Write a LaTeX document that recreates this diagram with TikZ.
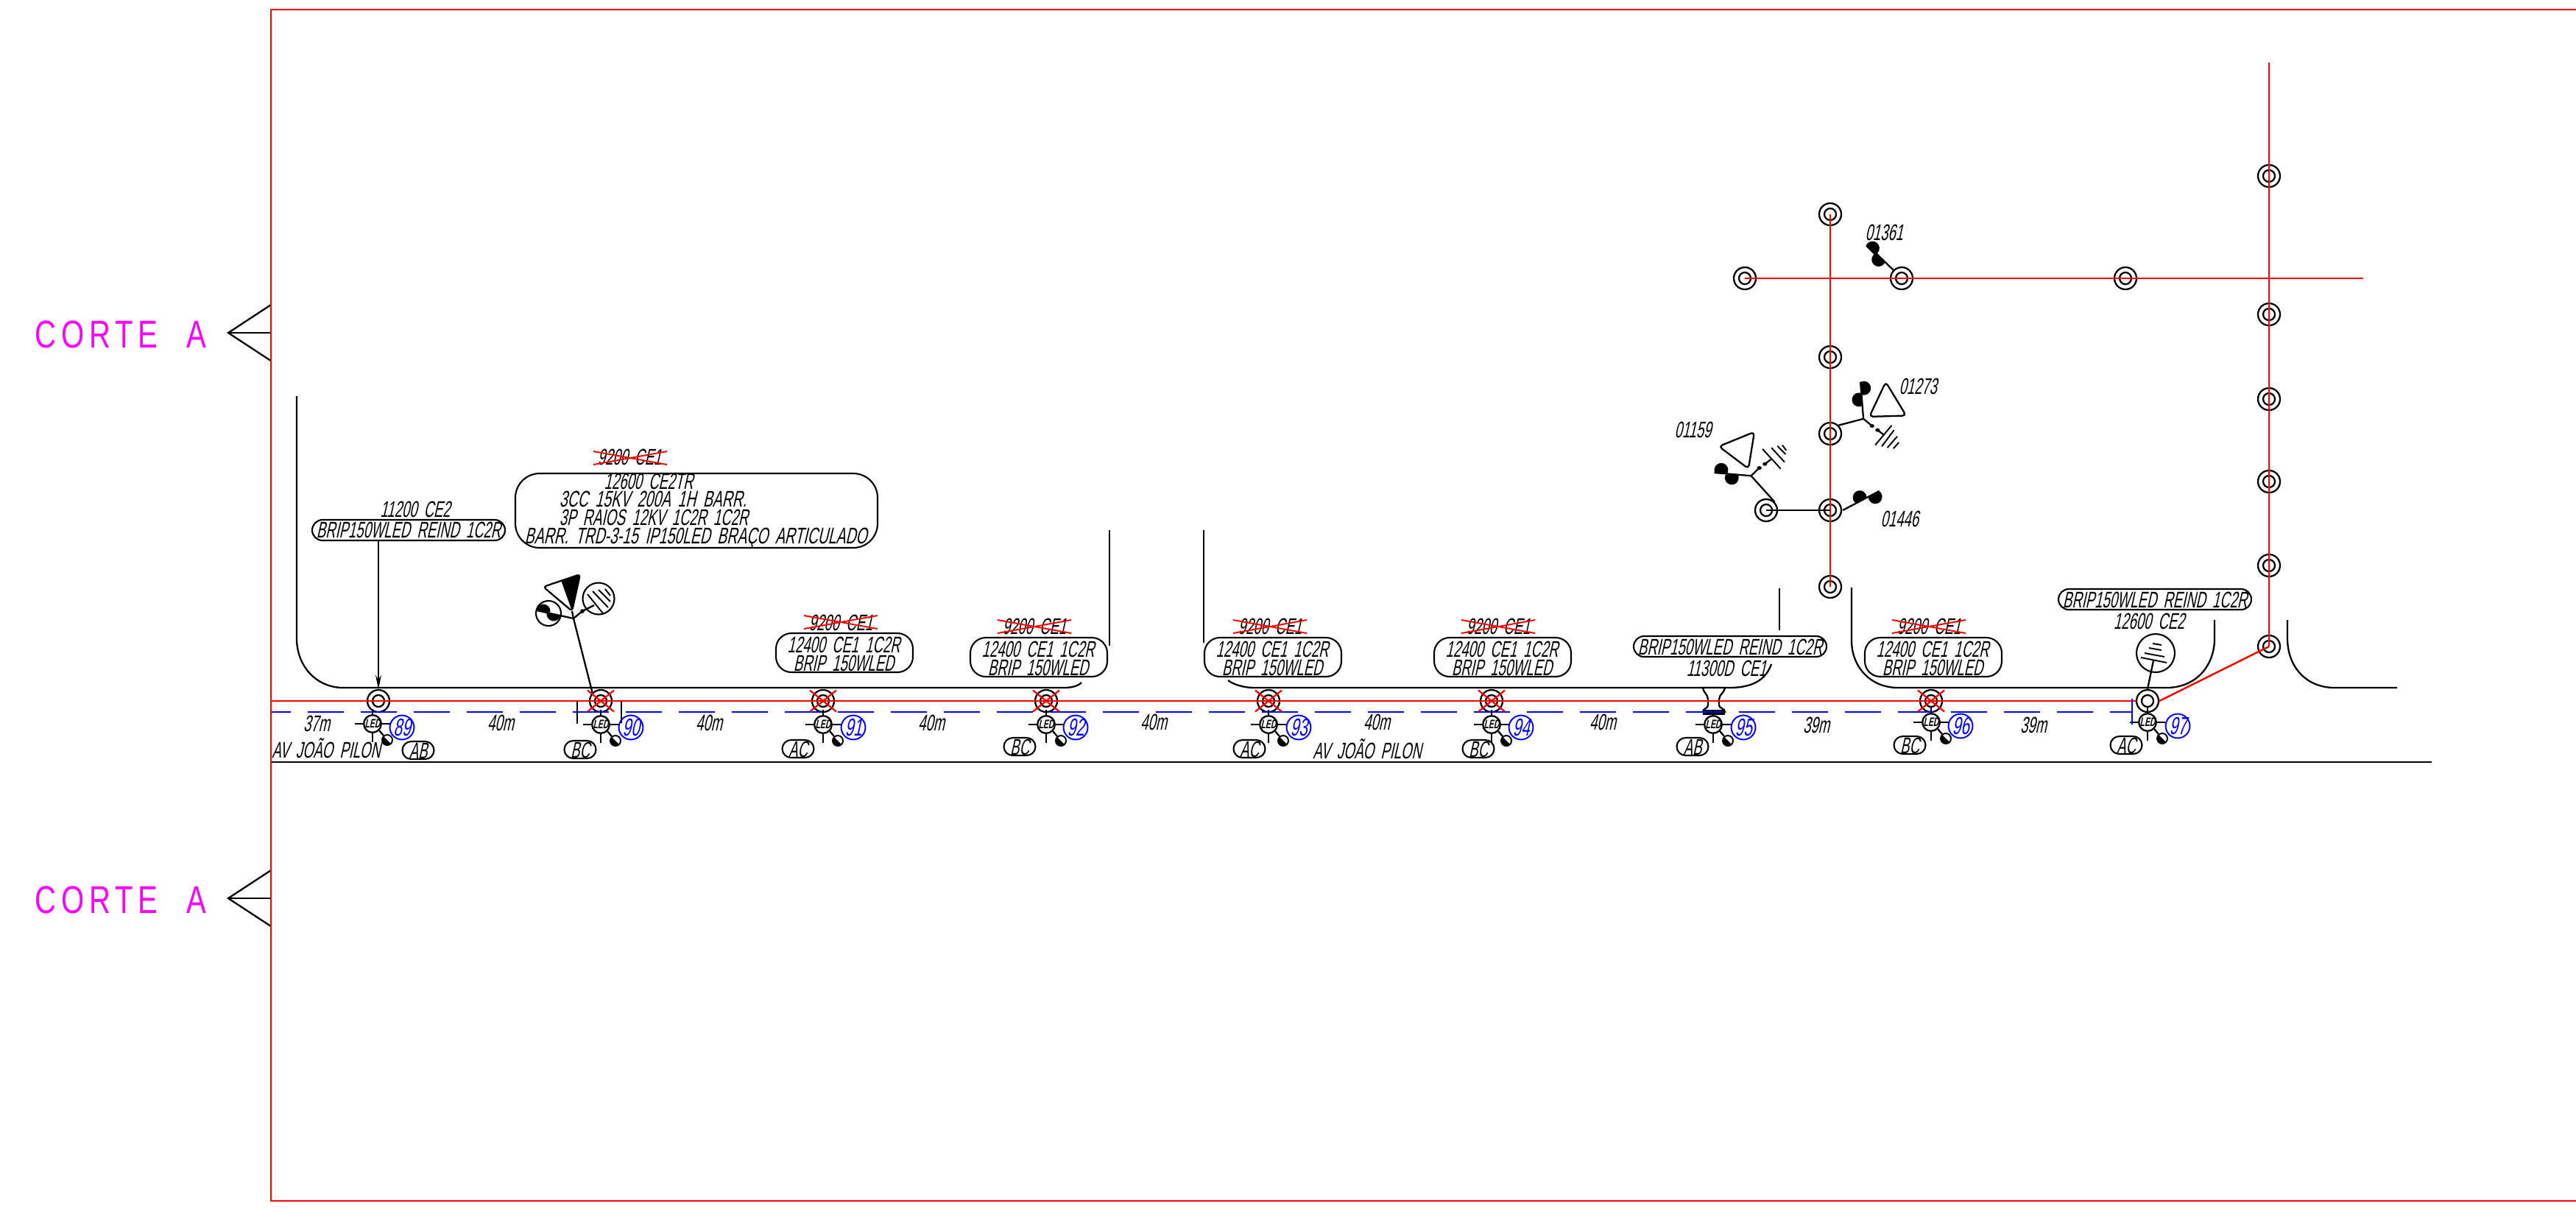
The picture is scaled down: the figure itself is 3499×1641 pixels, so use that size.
\documentclass[tikz,border=0pt]{standalone}
\usepackage{fontspec}
\usetikzlibrary{arrows.meta,calc}
\setmainfont{Liberation Sans}
\newfontfamily\cadfont[FakeSlant=0.22,FakeStretch=0.60,WordSpace=1.8]{Liberation Sans}
\newfontfamily\cadnum[FakeSlant=0.22,FakeStretch=0.62]{Liberation Sans}
\newfontfamily\cadup[FakeStretch=0.76,WordSpace=2.2,LetterSpace=13]{Liberation Sans}
\definecolor{cred}{RGB}{255,0,0}
\definecolor{cblue}{RGB}{0,0,255}
\definecolor{cmag}{RGB}{255,0,255}
\tikzset{
 ln/.style={line width=1.3pt,black},
 thin ln/.style={line width=1pt,black},
 rline/.style={line width=1.4pt,cred},
 xline/.style={line width=1.1pt,cred},
 bline/.style={line width=1.6pt,cblue},
 pole/.style={circle,draw,line width=1.3pt,minimum size=0.6cm,inner sep=0pt,fill=white,
   path picture={\draw[line width=1.3pt] (path picture bounding box.center) circle (8);}},
 ledc/.style={circle,draw,line width=1.3pt,minimum size=0.47cm,inner sep=0pt,fill=white,
   font=\cadnum\fontsize{9.5}{10}\selectfont\bfseries},
 ball/.style={circle,draw,line width=1.1pt,minimum size=0.28cm,inner sep=0pt,
   path picture={\fill[shift={(path picture bounding box.center)}] (45:8) arc (45:225:8) -- cycle;}},
 numc/.style={circle,draw=cblue,text=cblue,line width=1.1pt,minimum size=0.64cm,inner sep=0pt,
   font=\cadnum\fontsize{19}{19}\selectfont},
 txt/.style={inner sep=0pt,text height=12.5pt,text depth=0pt,font=\cadfont\fontsize{17.5}{18}\selectfont},
 pill/.style={draw,line width=1.2pt,rounded corners=0.24cm,minimum height=0.48cm,minimum width=0.86cm,inner sep=0pt,
   text height=12.5pt,text depth=0pt,font=\cadfont\fontsize{17.5}{18}\selectfont},
 lbox/.style={draw,line width=1.2pt,inner sep=0pt},
}
\newcommand{\strikeout}[2]{\draw[xline,shift={(#1,#2)}] (-50,-9)--(50,9) (-50,9)--(50,-9);}
\newcommand{\lobepx}[3]{%
 \fill[shift={(#1,#2)},shift={(#3+90:4.5)}] (#3-28:9.5) arc (#3-28:#3+208:9.5) -- cycle;}
\newcommand{\zlobe}[3]{%
 \pgfmathsetmacro\lobx{2200+#1/2.24}\pgfmathsetmacro\loby{260+#2/2.8}%
 \lobepx{\lobx}{\loby}{#3}}
\begin{document}
\begin{tikzpicture}[x=0.02cm,y=-0.02cm]
\useasboundingbox (0,0) rectangle (3499,1641);
\fill[white] (0,0) rectangle (3499,1641);

% street edges
\draw[ln] (403,538) -- (403,867) .. controls (403,905) and (430,934) .. (466,934) -- (1445,934) .. controls (1455,934) and (1464,932) .. (1469,927);
\draw[thin ln] (1507,720) -- (1507,877);
\draw[thin ln] (1635,720) -- (1635,873);
\draw[ln] (1668,924) .. controls (1676,930) and (1690,934) .. (1703,934) -- (2349,934) .. controls (2378,934) and (2398,925) .. (2406,902);
\draw[thin ln] (2417,799) -- (2417,856);
\draw[ln] (2515,798) -- (2515,870) .. controls (2515,905) and (2540,934) .. (2578,934) -- (2943,934) .. controls (2982,934) and (3008,905) .. (3008,867) -- (3008,842);
\draw[ln] (3107,842) -- (3107,867) .. controls (3107,905) and (3132,934) .. (3171,934) -- (3256,934);
\draw[ln] (368,1035) -- (3303,1035);

% I-beam crossing
\draw[ln,fill=white] (2313,934) -- (2343,934) .. controls (2343,940) and (2335,943) .. (2335,950) -- (2335,958) .. controls (2335,962) and (2343,962) .. (2343,967) -- (2313,967) .. controls (2313,962) and (2320,962) .. (2320,958) -- (2320,950) .. controls (2320,943) and (2313,940) .. (2313,934) -- cycle;
\fill (2313,964) rectangle (2343,971);

% poles
\foreach \n/\x/\y in {89/514/952,90/816/952,91/1118/952,92/1421/952,93/1723/952,94/2026/952,96/2623/952,97/2917/952,
  a1/3082/878,a2/3082/768,a3/3082/654,a4/3082/542,a5/3082/427,a6/3082/239,
  b1/2486/291,b2/2486/485,b3/2486/589,b4/2486/693,b5/2486/797,
  c1/2370/378,c2/2583/378,c3/2887/378,d1/2399/693}
  \node[pole] (p\n) at (\x,\y) {};
\coordinate (p95) at (2327,952);

% blue service line
\coordinate (bstart) at (368,967);
\coordinate (bend) at (2896,967);
\draw[bline,dash pattern=on 0.98cm off 0.46cm,dash phase=0.44cm] (bstart) -- (bend);

% LED luminaires
\foreach \n/\x/\y/\nx/\ny/\ph/\pxx/\pyy in {89/506/983/546/988/AB/568/1019,90/816/984/857/988/BC/788/1018,91/1118/984/1159/988/AC/1084/1017,
  92/1421/984/1461/988/BC/1385/1014,93/1723/984/1764/988/AC/1697/1017,94/2026/984/2066/988/BC/2008/1017,
  95/2327/984/2368/988/AB/2299/1014,96/2623/981/2663/986/BC/2594/1012,97/2917/981/2958/986/AC/2888/1012}{
  \node[ledc] (l\n) at (\x,\y) {LED};
  \node[ball] (ba\n) at ($(l\n)+(20,22)$) {};
  \node[numc] (n\n) at (\nx,\ny) {\n};
  \node[pill] (ph\n) at (\pxx,\pyy) {\ph};
  \draw[ln] (l\n.west) -- ++(-11,0);
  \draw[ln] (l\n.east) -- ++(11,0);
  \draw[ln] (l\n.south) -- ++(0,12);
  \draw[ln] (l\n.north) -- ++(0,-7);
  \draw[ln] (l\n.south east) -- (ba\n);
}

% primary network (red)
\coordinate (rs) at (368,952);
\draw[rline] (rs) -- (p97.west);
\draw[rline] (p97.east) -- (pa1.center);
\coordinate (rtop) at (3082,85);
\draw[rline] (pa1.center) -- (rtop);
\coordinate (rr) at (3210,378);
\draw[rline] (pc1.center) -- (rr);
\draw[rline] (pb1.center) -- (pb5.center);
\draw[ln] (pd1.center) -- (pb4.center);

% blue end and ticks near 90
\coordinate (bt) at (2896,949);
\coordinate (bb) at (2896,984);
\draw[bline,line width=1.1pt] (bt) -- (bb);
\draw[ln] (784,952) -- (784,983);
\draw[ln] (844,952) -- (844,982);

% crosses on replaced poles
\foreach \n in {90,91,92,93,94,96}
  \draw[xline,line width=1.3pt,shift={(p\n.center)}] (-18,-14.5)--(18,14.5) (-18,14.5)--(18,-14.5);

% span lengths
\foreach \i/\t/\x/\y in {1/37m/430/982,2/40m/680/981,3/40m/963/981,4/40m/1265/981,5/40m/1567/980,6/40m/1870/980,7/40m/2177/980,8/39m/2467/984,9/39m/2762/984}
  \node[txt] (sp\i) at (\x,\y) {\t};
\node[txt] (av1) at (443,1018) {AV JOÃO PILON};
\node[txt] (av2) at (1857,1019) {AV JOÃO PILON};

% labels
\node[txt] (l89a) at (564,692) {11200 CE2};
\node[lbox,rounded corners=0.28cm,minimum width=5.24cm,minimum height=0.56cm,txt] (b89) at (555,720) {BRIP150WLED REIND 1C2R};
\draw[lbox,rounded corners=0.66cm] (700,643) rectangle (1192,744);
\node[txt] (t90a) at (881,654) {12600 CE2TR};
\node[txt,transform shape,xscale=1.05] (t90b) at (887,678) {3CC 15KV 200A 1H BARR.};
\node[txt] (t90c) at (888,703) {3P RAIOS 12KV 1C2R 1C2R};
\node[txt,transform shape,xscale=1.05] (t90d) at (945,728) {BARR. TRD-3-15 IP150LED BRAÇO ARTICULADO};
\node[txt] (s90) at (855,621) {9200 CE1};
\strikeout{856}{622}

\foreach \n/\cx/\yy/\sx in {91/1147/860/1142,92/1411/866/1405,93/1729/866/1725,94/2041/866/2035,96/2626/866/2620}{
  \draw[lbox,rounded corners=0.42cm] ($(\cx,\yy)+(-93,0)$) rectangle ($(\cx,\yy)+(93,53)$);
  \node[txt] (ta\n) at ($(\cx,\yy)+(-1,15)$) {12400 CE1 1C2R};
  \node[txt] (tb\n) at ($(\cx,\yy)+(-1,40)$) {BRIP 150WLED};
  \node[txt] (sx\n) at ($(\sx,\yy)+(0,-15)$) {9200 CE1};
  \strikeout{\sx}{\yy-15}
}
\node[lbox,rounded corners=0.28cm,minimum width=5.24cm,minimum height=0.56cm,txt] (b95) at (2350,878) {BRIP150WLED REIND 1C2R};
\node[txt] (t95) at (2345,907) {11300D CE1};
\node[lbox,rounded corners=0.28cm,minimum width=5.24cm,minimum height=0.56cm,txt] (b97) at (2927,814) {BRIP150WLED REIND 1C2R};
\node[txt] (t97) at (2919,843) {12600 CE2};

% leader with arrow
\draw[thin ln,-{Stealth[length=0.38cm,width=0.16cm]}] (b89.south -| p89) -- (p89.north);

% symbol at pole 97
\node[circle,draw,line width=1.2pt,minimum size=1.04cm,inner sep=0pt] (c97) at (2928,887) {};
\coordinate (h97) at (2925,897);
\draw[ln] (p97.north) -- (h97);
\draw[ln,line width=1.1pt] (2908,893)--(2943,900) (2913,887)--(2940,892) (2919,880)--(2936,883) (2924,874)--(2936,876);

% symbol group at pole 90
\coordinate (h90) at (779,840);
\draw[ln] (p90.north west) -- (h90);
\draw[ln,line join=round,rounded corners=0.08cm] (788,780) -- (738,797) -- (777,830) -- cycle;
\fill[rounded corners=0.06cm] (762,788) -- (788,780) -- (777,830) -- cycle;
\draw[ln] (h90) -- (777,830);
\node[circle,draw,line width=1.2pt,minimum size=0.68cm,inner sep=0pt] (c90a) at (745,833) {};
\node[circle,draw,line width=1.2pt,minimum size=0.86cm,inner sep=0pt] (c90b) at (813,813) {};
\draw[ln] (h90) -- (729,829);
\fill[shift={(738,830)}] (190:9.5) arc (190:370:9.5) -- cycle;
\fill[shift={(752,834)}] (10:9.5) arc (10:190:9.5) -- cycle;
\draw[ln] (h90) -- (791,830);
\fill (791,830) circle (2.8);
\draw[ln] (791,830) -- (807,822);
\draw[ln,line width=1.1pt] (798,807)--(819,833) (805,803)--(826,825) (813,801)--(829,817) (822,800)--(829,809);

% upper network symbols, in reference crop coordinates
\begin{scope}[shift={(2200,260)},x=0.008929cm,y=-0.007143cm]
 \node[txt] (t361) at (805,155) {01361};
 \node[txt] (t273) at (908,740) {01273};
 \node[txt] (t159) at (223,905) {01159};
 \node[txt] (t446) at (852,1245) {01446};
 \coordinate (h361) at (755,205);
 \draw[ln] (pc2.north west) -- (h361);
 \coordinate (h273) at (742,865);
 \draw[ln] (pb3.north east) -- (h273);
 \draw[ln] (h273) -- (733,725);
 \draw[ln,rounded corners=0.1cm] (810,725) -- (872,853) -- (760,857) -- cycle;
 \draw[ln] (h273) -- (768,892);
 \fill (768,892) circle [x radius=7,y radius=7];
 \fill (785,908) circle [x radius=7,y radius=7];
 \draw[ln] (785,908) -- (803,925);
 \draw[ln,line width=1.1pt] (828,890)--(778,965) (835,908)--(798,970) (845,932)--(815,975) (850,955)--(833,978);
 \coordinate (h159) at (400,1082);
 \draw[ln] (pd1.north east) -- (h159);
 \draw[ln] (h159) -- (288,1070);
 \draw[ln,rounded corners=0.1cm] (410,915) -- (302,970) -- (392,1055) -- cycle;
 \draw[ln] (h159) -- (425,1052);
 \fill (425,1052) circle [x radius=7,y radius=7];
 \fill (442,1037) circle [x radius=7,y radius=7];
 \draw[ln] (442,1037) -- (460,1020);
 \draw[ln,line width=1.1pt] (435,980)--(490,1055) (462,975)--(502,1030) (480,968)--(505,1000) (495,965)--(507,985);
 \coordinate (h446) at (790,1140);
 \draw[ln] (pb4.east) ++(2,0) -- (h446);
\end{scope}
\zlobe{762}{225}{225}
\zlobe{795}{250}{45}
\zlobe{733}{748}{270}
\zlobe{738}{792}{90}
\zlobe{309}{1072}{180}
\zlobe{341}{1076}{0}
\zlobe{735}{1175}{153}
\zlobe{773}{1150}{333}

% section marks
\foreach \i/\yy/\ty in {1/452/454,2/1220/1222}{
  \node[inner sep=0pt,anchor=west,text=cmag,font=\cadup\fontsize{30}{30}\selectfont] (corte\i) at (47,\ty) {CORTE A};
  \draw[ln,line join=miter] (368,\yy-38) -- (310,\yy) -- (368,\yy+38);
  \draw[ln] (310,\yy) -- (368,\yy);
}
% drawing frame
\coordinate (fr1) at (3499,13);
\coordinate (fr2) at (3499,1631);
\draw[rline] (fr1) -- (368,13) -- (368,1631) -- (fr2);
\end{tikzpicture}
\end{document}
